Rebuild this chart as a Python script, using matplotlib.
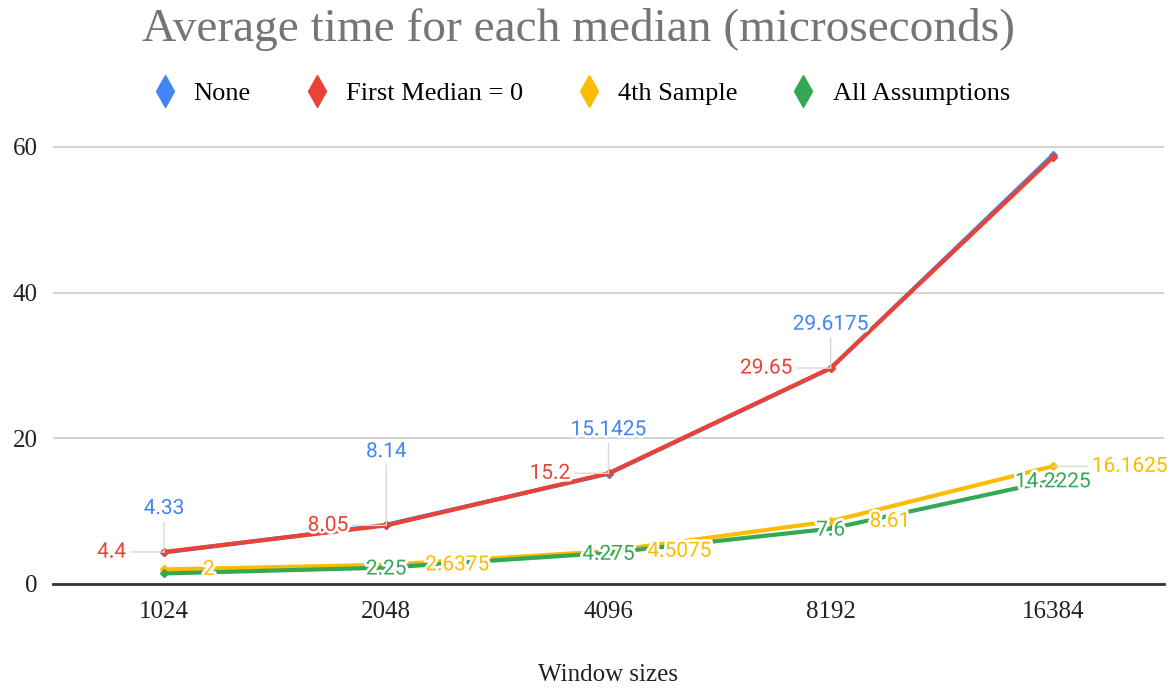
import matplotlib.pyplot as plt
import matplotlib.patheffects as pe
from matplotlib.lines import Line2D
import numpy as np

# window sizes and average time per median variant (microseconds)
windows = ["1024", "2048", "4096", "8192", "16384"]
none_vals = [4.33, 8.14, 15.1425, 29.6175, 58.9]
first_median_vals = [4.4, 8.05, 15.2, 29.65, 58.6]
fourth_sample_vals = [2, 2.6375, 4.5075, 8.61, 16.1625]
all_assump_vals = [1.45, 2.25, 4.275, 7.6, 14.2225]

series_names = ["None", "First Median = 0", "4th Sample", "All Assumptions"]
colors = ["#4285F4", "#EA4335", "#FBBC04", "#34A853"]

serif = ["Liberation Serif", "DejaVu Serif"]
label_font = ["Roboto", "DejaVu Sans"]

fig = plt.figure(figsize=(11.75, 6.95), dpi=100)
ax = fig.add_axes([53 / 1175, 111 / 695, 1111 / 1175, 0.655])

x = np.arange(len(windows))
all_series = [none_vals, first_median_vals, fourth_sample_vals, all_assump_vals]
for vals, c, z in zip(all_series, colors, [3, 4, 5, 6]):
    ax.plot(x, vals, color=c, lw=3, marker="D", markersize=4.5,
            solid_capstyle="round", zorder=z)

halo = [pe.withStroke(linewidth=4, foreground="white")]
leader = dict(arrowstyle="-", color="#d9d9d9", lw=1, shrinkA=1, shrinkB=0)


def put_label(i, v, c, dx, dy, ha, lead=True):
    ax.annotate(f"{v:g}", xy=(x[i], v), xytext=(dx, dy), textcoords="offset points",
                ha=ha, va="center", color=c, fontsize=15, family=label_font,
                path_effects=halo, zorder=10,
                arrowprops=leader if lead else None, annotation_clip=False)


# blue labels above, red to the left, yellow to the right, green on the point
for i in range(4):
    put_label(i, none_vals[i], colors[0], 0, 52.6 if i == 1 else 31.7, "center")
    put_label(i, first_median_vals[i], colors[1], -27.4, 0, "right")
for i in range(5):
    put_label(i, fourth_sample_vals[i], colors[2], 28, 0, "left", lead=(i == 4))
for i in range(1, 5):
    put_label(i, all_assump_vals[i], colors[3], 0, -1, "center", lead=False)

ax.set_xlim(-0.5, len(windows) - 0.5)
ax.set_ylim(0, 62.5)
ax.set_yticks([0, 20, 40, 60])
ax.set_xticks(x)
ax.set_xticklabels(windows)
ax.grid(axis="y", color="#cccccc", lw=1.2)
ax.set_axisbelow(True)
for s in ["top", "right", "left"]:
    ax.spines[s].set_visible(False)
ax.spines["bottom"].set_color("#333333")
ax.spines["bottom"].set_linewidth(2)
ax.spines["bottom"].set_zorder(1)
ax.tick_params(axis="both", length=0, labelsize=18, colors="#222222")
ax.tick_params(axis="y", pad=11)
ax.tick_params(axis="x", pad=12)
for t in ax.get_xticklabels() + ax.get_yticklabels():
    t.set_family(serif)

ax.set_xlabel("Window sizes", fontsize=18, family=serif, color="#222222", labelpad=30)

fig.text(0.492, 0.958, "Average time for each median (microseconds)", ha="center", va="center",
         fontsize=34, family=serif, color="#757575")

handles = [Line2D([], [], ls="none", marker="d", markersize=16, color=c) for c in colors]
fig.legend(handles, series_names, loc="center", bbox_to_anchor=(0.493, 0.866), ncol=4,
           frameon=False, prop={"family": serif, "size": 19}, handletextpad=0.5,
           columnspacing=1.9, handlelength=1.2)

fig.savefig("out.png", dpi=100)
